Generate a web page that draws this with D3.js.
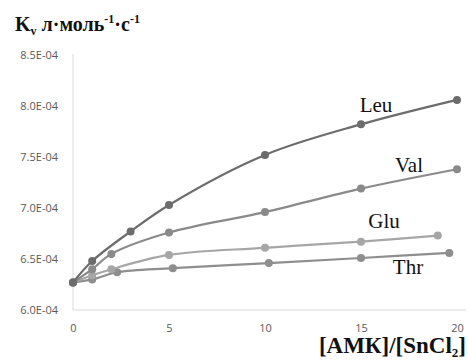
<!DOCTYPE html>
<html>
<head>
<meta charset="utf-8">
<script src="https://cdn.jsdelivr.net/npm/d3@7"></script>
<style>
  html, body { margin: 0; padding: 0; background: #fff; }
  svg { display: block; }
</style>
</head>
<body>
<svg id="chart" width="468" height="360"></svg>
<script>
// Rate constant Kv versus the amino acid / SnCl2 ratio
const leuX = [0, 1, 3, 5, 10, 15, 20];
const leuY = [6.27e-4, 6.48e-4, 6.77e-4, 7.03e-4, 7.52e-4, 7.82e-4, 8.06e-4];
const valX = [0, 1, 2, 5, 10, 15, 20];
const valY = [6.27e-4, 6.40e-4, 6.55e-4, 6.76e-4, 6.96e-4, 7.19e-4, 7.38e-4];
const gluX = [0, 1, 2, 5, 10, 15, 19];
const gluY = [6.27e-4, 6.34e-4, 6.40e-4, 6.54e-4, 6.61e-4, 6.67e-4, 6.73e-4];
const thrX = [0, 1, 2.3, 5.2, 10.2, 15, 19.6];
const thrY = [6.27e-4, 6.30e-4, 6.37e-4, 6.41e-4, 6.46e-4, 6.51e-4, 6.56e-4];

const seriesNames = ["Thr", "Glu", "Val", "Leu"];
const seriesColors = ["#8e8e8e", "#a6a6a6", "#8a8a8a", "#6c6c6c"];
const xTicks = [0, 5, 10, 15, 20];
const yTicks = [6.0e-4, 6.5e-4, 7.0e-4, 7.5e-4, 8.0e-4, 8.5e-4];

const svg = d3.select("#chart");
const x = d3.scaleLinear().domain([0, 20]).range([73, 457]);
const y = d3.scaleLinear().domain([6.0e-4, 8.5e-4]).range([310, 55]);

// Axis lines
svg.append("line").attr("x1", x(0)).attr("x2", x(0)).attr("y1", y(8.5e-4) - 1).attr("y2", y(6.0e-4))
  .attr("stroke", "#d9d9d9").attr("stroke-width", 1);
svg.append("line").attr("x1", x(0)).attr("x2", 466).attr("y1", y(6.0e-4)).attr("y2", y(6.0e-4))
  .attr("stroke", "#d9d9d9").attr("stroke-width", 1);

// Tick labels
const yAxis = d3.axisLeft(y).tickValues(yTicks).tickSize(0).tickPadding(15)
  .tickFormat(v => (v * 1e4).toFixed(1) + "E-04");
const gy = svg.append("g").attr("transform", `translate(${x(0)},0)`).call(yAxis);
gy.select(".domain").remove();
gy.selectAll("text").attr("font-family", "Open Sans, sans-serif").attr("font-size", 11).attr("fill", "#595959");

const xAxis = d3.axisBottom(x).tickValues(xTicks).tickSize(0).tickPadding(14).tickFormat(d3.format("d"));
const gx = svg.append("g").attr("transform", `translate(0,${y(6.0e-4)})`).call(xAxis);
gx.select(".domain").remove();
gx.selectAll("text").attr("font-family", "Open Sans, sans-serif").attr("font-size", 11).attr("fill", "#595959");

// Series
const series = [
  { name: "Thr", xs: thrX, ys: thrY },
  { name: "Glu", xs: gluX, ys: gluY },
  { name: "Val", xs: valX, ys: valY },
  { name: "Leu", xs: leuX, ys: leuY }
];
const line = d3.line().x(d => x(d[0])).y(d => y(d[1])).curve(d3.curveCatmullRom.alpha(0.5));

series.forEach((s, i) => {
  const pts = s.xs.map((v, j) => [v, s.ys[j]]);
  const color = seriesColors[i];
  svg.append("path").datum(pts).attr("d", line)
    .attr("fill", "none").attr("stroke", color).attr("stroke-width", 2.2);
  svg.append("g").selectAll("circle").data(pts).join("circle")
    .attr("cx", d => x(d[0])).attr("cy", d => y(d[1])).attr("r", 4)
    .attr("fill", color);
});

// Series labels
const labelPos = { Leu: [376, 112], Val: [409, 172], Glu: [384, 228], Thr: [408, 274] };
seriesNames.forEach(n => {
  svg.append("text").attr("x", labelPos[n][0]).attr("y", labelPos[n][1])
    .attr("text-anchor", "middle")
    .attr("font-family", "Liberation Serif, Times New Roman, serif").attr("font-size", 21)
    .attr("fill", "#111").text(n);
});

// Y axis title
const yt = svg.append("text").attr("x", 15).attr("y", 31)
  .attr("font-family", "Liberation Serif, Times New Roman, serif").attr("font-weight", "bold")
  .attr("font-size", 20).attr("fill", "#111");
yt.append("tspan").text("K");
yt.append("tspan").attr("font-size", 12).attr("dy", 4).text("v");
yt.append("tspan").attr("dy", -4).text(" л·моль");
yt.append("tspan").attr("font-size", 12).attr("dy", -8).text("-1");
yt.append("tspan").attr("dy", 8).text("·с");
yt.append("tspan").attr("font-size", 12).attr("dy", -8).text("-1");

// X axis title
const xt = svg.append("text").attr("x", 466).attr("y", 353).attr("text-anchor", "end")
  .attr("font-family", "Liberation Serif, Times New Roman, serif").attr("font-weight", "bold")
  .attr("font-size", 23).attr("fill", "#111");
xt.append("tspan").text("[АМК]/[SnCl");
xt.append("tspan").attr("font-size", 13).attr("dy", 4).text("2");
xt.append("tspan").attr("dy", -4).text("]");
</script>
</body>
</html>
